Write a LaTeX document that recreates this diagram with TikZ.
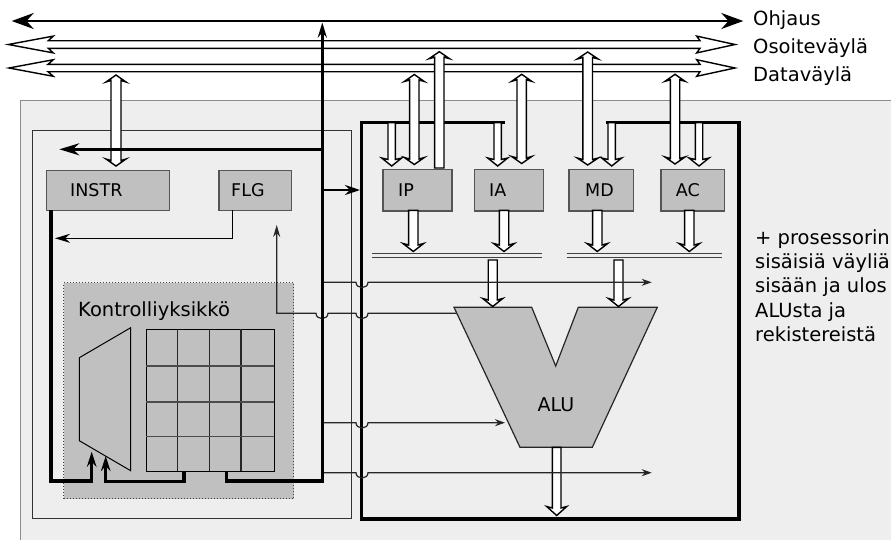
\documentclass[tikz,border=0pt]{standalone}
\usepackage{fontspec}
\setmainfont{DejaVu Sans}
\usetikzlibrary{arrows.meta}
\definecolor{bgc}{HTML}{EEEEEE}
\definecolor{boxc}{HTML}{C0C0C0}
\definecolor{edgec}{HTML}{555555}
\tikzset{
  hollowarrow/.style={fill=white, draw=black, line width=1.4pt, line join=miter},
  regbox/.style={draw=edgec, fill=boxc, line width=1.2pt, inner sep=0pt, anchor=north west},
  lab/.style={font=\fontsize{17.5}{20}\selectfont, inner sep=0pt, anchor=base west},
  big/.style={font=\fontsize{19.5}{23}\selectfont, inner sep=0pt, anchor=base west},
  thinline/.style={line width=1.2pt, draw=black!85},
  thickline/.style={line width=3.2pt, draw=black},
}
% double-headed vertical hollow arrow: x, ytop, ybot, s, h
\newcommand\vboth[5]{\filldraw[hollowarrow] (#1,#2) -- (#1+#5,#2+7) -- (#1+#4,#2+5.5) -- (#1+#4,#3-5.5) -- (#1+#5,#3-7) -- (#1,#3) -- (#1-#5,#3-7) -- (#1-#4,#3-5.5) -- (#1-#4,#2+5.5) -- (#1-#5,#2+7) -- cycle;}
% down hollow arrow: x, yflat, ytip, s, h, l
\newcommand\vdown[6]{\filldraw[hollowarrow] (#1-#4,#2) -- (#1-#4,#3-#6+1.5) -- (#1-#5,#3-#6) -- (#1,#3) -- (#1+#5,#3-#6) -- (#1+#4,#3-#6+1.5) -- (#1+#4,#2) -- cycle;}
% up hollow arrow: x, ytip, yflat, s, h, l
\newcommand\vup[6]{\filldraw[hollowarrow] (#1-#4,#3) -- (#1-#4,#2+#6-1.5) -- (#1-#5,#2+#6) -- (#1,#2) -- (#1+#5,#2+#6) -- (#1+#4,#2+#6-1.5) -- (#1+#4,#3) -- cycle;}
% horizontal hollow bus: y, s, h, ltip, lbarb, ljoin, rjoin, rbarb, rtip
\newcommand\hbus[9]{\filldraw[hollowarrow] (#4,#1) -- (#5,#1-#3) -- (#6,#1-#2) -- (#7,#1-#2) -- (#8,#1-#3) -- (#9,#1) -- (#8,#1+#3) -- (#7,#1+#2) -- (#6,#1+#2) -- (#5,#1+#3) -- cycle;}
\begin{document}
\begin{tikzpicture}[x=1pt,y=-1pt]
\useasboundingbox (0,0) rectangle (891,539);
% background
\fill[bgc] (20,100) rectangle (895,545);
\draw[line width=1pt, draw=black!45] (20,545) -- (20,100) -- (895,100);
% control unit outer box
\node[draw=black!80, fill=bgc, line width=1pt, inner sep=0pt, anchor=north west, minimum width=319pt, minimum height=388.5pt] (cu) at (32,129.5) {};
\node[draw=black!75, dotted, fill=boxc, line width=1pt, inner sep=0pt, anchor=north west, minimum width=230pt, minimum height=216pt] (kyk) at (63,282) {};
\node[big] (kykT) at (78,316.7) {Kontrolliyksikkö};
% mux trapezoid
\draw[line width=1pt] (130.7,327.7) -- (79.3,357.7) -- (79.3,440.7) -- (130.7,470.7) -- cycle;
% grid
\node[draw=black, line width=1pt, inner sep=0pt, anchor=north west, minimum width=128pt, minimum height=142.3pt] (grid) at (146,328.7) {};
\foreach \gx in {177.7,209.3,241} \draw[line width=1.3pt, black!85] (\gx,328.7) -- (\gx,471);
\foreach \gy in {366,402,436.7} \draw[line width=1.3pt, black!70] (146,\gy) -- (274,\gy);
% INSTR and FLG
\node[regbox, minimum width=123pt, minimum height=40.3pt] (instr) at (45.7,169.7) {};
\node[lab] (instrT) at (70,196) {INSTR};
\node[regbox, minimum width=72.7pt, minimum height=40.3pt] (flg) at (218.3,169.7) {};
\node[lab] (flgT) at (231,196) {FLG};
% CPU thick frame
\draw[line width=3.2pt, line join=miter] (505,122.7) -- (361.7,122.7) -- (361.7,519) -- (739,519) -- (739,122.7) -- (605.7,122.7);
% registers
\node[regbox, minimum width=69pt, minimum height=41.3pt] (ip) at (382.3,169) {};
\node[lab] (ipT) at (398,196) {IP};
\node[regbox, minimum width=68.7pt, minimum height=41.3pt] (ia) at (474,169) {};
\node[lab] (iaT) at (489,196) {IA};
\node[regbox, minimum width=64.4pt, minimum height=41.3pt] (md) at (568.3,169) {};
\node[lab] (mdT) at (585,196) {MD};
\node[regbox, minimum width=63.7pt, minimum height=41.3pt] (ac) at (660.3,169) {};
\node[lab] (acT) at (675.7,196) {AC};
% internal buses
\draw[line width=1.3pt, black!75] (372,253.3) -- (541.7,253.3) (372,257.7) -- (541.7,257.7);
\draw[line width=1.3pt, black!75] (566.7,253.3) -- (721.7,253.3) (566.7,257.7) -- (721.7,257.7);
% ALU
\draw[fill=boxc, draw=black!85, line width=1.2pt, line join=miter] (454,307.3) -- (531.7,307.3) -- (555.7,366) -- (578.3,307.3) -- (657.3,307.3) -- (592.3,447.3) -- (520,447.3) -- cycle;
\node[font=\fontsize{19}{23}\selectfont, inner sep=0pt, anchor=base] (alu) at (556,411) {ALU};
% main buses
\draw[line width=2pt, {Stealth[length=22pt,width=16pt]}-{Stealth[length=22pt,width=16pt]}] (11.7,21) -- (743.3,21);
\hbus{44.5}{3.8}{8.4}{8.3}{53.3}{48.3}{700}{696.7}{735}
\hbus{68}{3.7}{8.3}{9}{53.3}{48}{700}{696.7}{735}
\node[big] (ohj) at (753,25) {Ohjaus};
\node[big] (oso) at (753,53) {Osoiteväylä};
\node[big] (dat) at (753,81) {Dataväylä};
% hollow arrows, top
\vboth{116}{75}{166}{5}{10}
\vdown{391.7}{122.7}{166}{3.7}{10}{8}
\vboth{414.3}{74.5}{164.5}{4.7}{10}
\vup{439.3}{51.7}{168}{4.7}{10.3}{7}
\vdown{497.7}{122.7}{166}{3.7}{10}{8}
\vboth{521.7}{74.3}{163.5}{4.7}{10}
\vboth{587.7}{52}{165}{4.8}{10.5}
\vdown{611.7}{122.7}{166}{3.7}{10}{8}
\vboth{675}{74.3}{164}{4.7}{10}
\vdown{699}{122.7}{166}{3.7}{10}{8}
% hollow arrows below registers
\vdown{413.3}{210.3}{251.5}{4.7}{10.3}{8}
\vdown{504}{210.3}{251.5}{4.7}{10.3}{8}
\vdown{597.3}{210.3}{251.5}{4.7}{10.3}{8}
\vdown{689.3}{210.3}{251.5}{4.7}{10.3}{8}
\vdown{492.7}{260}{306.5}{4.5}{10}{8}
\vdown{618.5}{260}{306.5}{4.5}{10}{8}
\vdown{556.7}{447.3}{515.5}{4.3}{10}{9}
% thin lines with jumps
\draw[thinline, -{Stealth[length=10pt,width=7pt]}] (323,282.3) -- (356,282.3) .. controls (356,289.3) and (368,289.3) .. (368,282.3) -- (651.7,282.3);
\draw[thinline, -{Stealth[length=12pt,width=7pt]}] (456.5,313.3) -- (368,313.3) .. controls (368,320.3) and (356,320.3) .. (356,313.3) -- (328,313.3) .. controls (328,320.3) and (316,320.3) .. (316,313.3) -- (276.7,313.3) -- (276.7,225);
\draw[thinline, -{Stealth[length=10pt,width=7pt]}] (323,422.7) -- (356,422.7) .. controls (356,429.7) and (368,429.7) .. (368,422.7) -- (505,422.7);
\draw[thinline, -{Stealth[length=10pt,width=7pt]}] (323,472.7) -- (356,472.7) .. controls (356,479.7) and (368,479.7) .. (368,472.7) -- (651.7,472.7);
\draw[line width=1.5pt, -{Stealth[length=15pt,width=9pt]}] (232.7,210) -- (232.7,238.3) -- (55,238.3);
% thick control lines
\draw[thickline, line join=miter, -{Stealth[length=15pt,width=9pt]}] (226.5,471) -- (226.5,481) -- (322.3,481) -- (322.3,22.5);
\draw[line width=2.5pt, -{Stealth[length=20pt,width=12pt]}] (322.3,149.3) -- (59.3,149.3);
\draw[line width=2.5pt, -{Stealth[length=15pt,width=10pt]}] (322.3,190) -- (360,190);
\draw[thickline, line join=miter, -{Stealth[length=15pt,width=9.5pt]}] (51,210.3) -- (51,481) -- (91.7,481) -- (91.7,451.7);
\draw[thickline, line join=miter, -{Stealth[length=15pt,width=9.5pt]}] (184,471) -- (184,481.5) -- (105.7,481.5) -- (105.7,456);
% right side text
\node[big] (t1) at (755,244) {+ prosessorin};
\node[big] (t2) at (755,268.4) {sisäisiä väyliä};
\node[big] (t3) at (755,292.8) {sisään ja ulos};
\node[big] (t4) at (755,317.2) {ALUsta ja};
\node[big] (t5) at (755,341.6) {rekistereistä};
\end{tikzpicture}
\end{document}
